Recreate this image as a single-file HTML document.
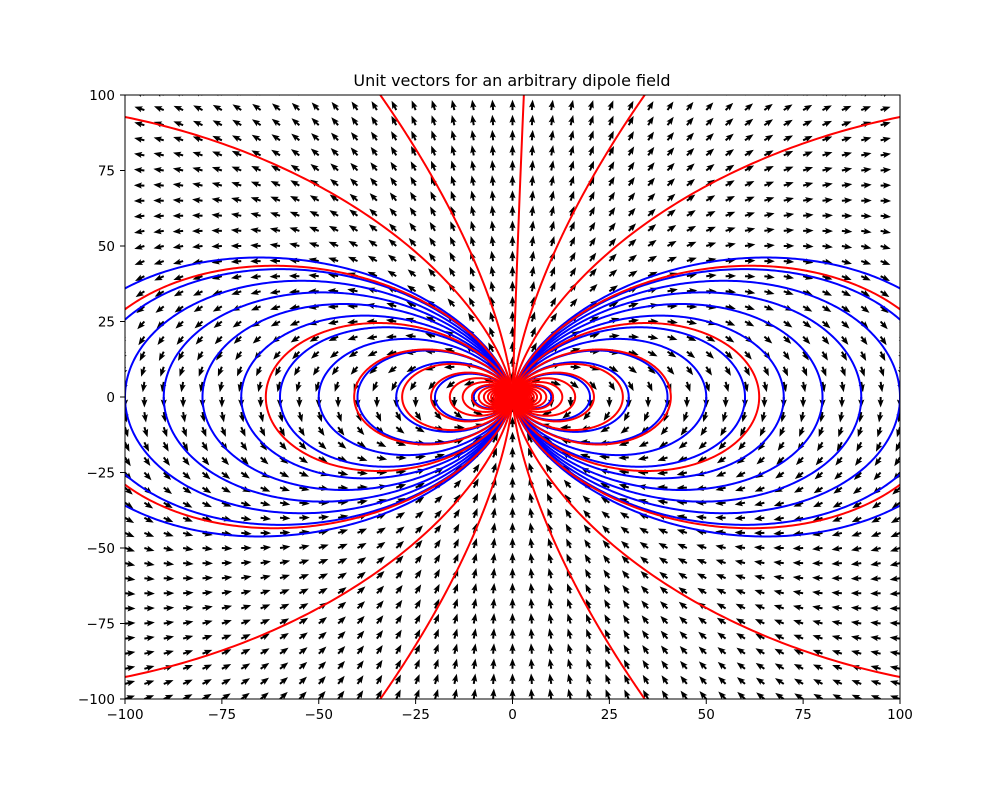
<!DOCTYPE html>
<html><head><meta charset="utf-8"><style>
html,body{margin:0;padding:0;background:#fff;overflow:hidden;width:1000px;height:786px;}
#wrap{position:absolute;left:0;top:0;width:1000px;height:786px;overflow:hidden;}
svg{display:block;overflow:hidden;}
svg text{font-family:"DejaVu Sans","Liberation Sans",sans-serif;}
</style></head><body>
<div id="wrap">
<svg id="chart" width="1000" height="786" viewBox="0 0 1000 786" xmlns="http://www.w3.org/2000/svg">
<defs><clipPath id="clip"><rect x="125" y="95" width="775" height="604"/></clipPath></defs>
<rect x="0" y="0" width="1000" height="786" fill="#fff"/>
<text x="512" y="86" font-size="16" text-anchor="middle">Unit vectors for an arbitrary dipole field</text>
<g id="quiver" clip-path="url(#clip)"></g>
<g id="blue" clip-path="url(#clip)"></g>
<g id="red" clip-path="url(#clip)"></g>
<rect x="125" y="95" width="775" height="604" fill="none" stroke="#000" stroke-width="1"/>
<g id="ticks"></g>
</svg>
</div>
<script>
const xTicks = [-100, -75, -50, -25, 0, 25, 50, 75, 100];
const yTicks = [-100, -75, -50, -25, 0, 25, 50, 75, 100];
const gridX = [-100,-95,-90,-85,-80,-75,-70,-65,-60,-55,-50,-45,-40,-35,-30,-25,-20,-15,-10,-5,0,5,10,15,20,25,30,35,40,45,50,55,60,65,70,75,80,85,90,95,100];
const gridY = [-100,-95,-90,-85,-80,-75,-70,-65,-60,-55,-50,-45,-40,-35,-30,-25,-20,-15,-10,-5,0,5,10,15,20,25,30,35,40,45,50,55,60,65,70,75,80,85,90,95,100];
const dipoleMoment = [0, 1];
const blueC = [10, 20, 30, 40, 50, 60, 70, 80, 90, 100, 110, 120];
const redC = [1013.2, 253.6, 112.9, 63.66, 40.86, 28.48, 21.02, 16.17, 12.85, 10.47, 8.715, 7.379, 6.34, 5.516, 4.852, 4.309, 3.859, 3.483, 3.165, 2.894, 2.662, 2.461, 2.287, 2.134, 2.0, 1.882, 1.777, 1.684, 1.602, 1.528, 1.462, 1.403, 1.35, 1.302, 1.26, 1.221, 1.157, 1.106, 1.025, 1.0];
const redTopLineEnd = [3, 100];

const NS = "http://www.w3.org/2000/svg";
const X = v => 125 + (v + 100) * 3.875;
const Y = v => 397 - v * 3.02;
function mk(tag, attrs, parent){const e=document.createElementNS(NS,tag);for(const k in attrs)e.setAttribute(k,attrs[k]);parent.appendChild(e);return e;}

const qg = document.getElementById('quiver');
const L=10.5, HL=7, HW=3.1, SW=1.0;
for (const gx of gridX) for (const gy of gridY) {
  const r2 = gx*gx + gy*gy; if (r2 === 0) continue;
  const r = Math.sqrt(r2);
  const pr = (dipoleMoment[0]*gx + dipoleMoment[1]*gy)/r;
  let u = 3*pr*gx/r - dipoleMoment[0], v = 3*pr*gy/r - dipoleMoment[1];
  const n = Math.hypot(u,v); u/=n; v/=n;
  const dx = u, dy = -v, px = -dy, py = dx;
  const tx = X(gx), ty = Y(gy);
  const pts = [[0,-SW],[L-HL,-SW],[L-HL-1,-HW],[L,0],[L-HL-1,HW],[L-HL,SW],[0,SW]]
    .map(([a,b]) => (tx+a*dx+b*px).toFixed(2)+','+(ty+a*dy+b*py).toFixed(2)).join(' ');
  const el = mk('polygon', {points: pts, fill:'#000'}, qg);
  
  
}

function loopPath(C){
  let d='';
  const N = C > 500 ? 4000 : 600;
  for (const s of [1,-1]) {
    let pen = false;
    for (let i=0;i<=N;i++){
      const lam = -Math.PI/2 + Math.PI*i/N;
      const c = Math.cos(lam), sn = Math.sin(lam);
      const x = s*C*c*c*c, y = C*c*c*sn;
      if (Math.abs(x) > 110 || Math.abs(y) > 110) { pen = false; continue; }
      d += (pen?'L':'M') + X(x).toFixed(2)+','+Y(y).toFixed(2);
      pen = true;
    }
  }
  return d;
}
const bg = document.getElementById('blue');
for (const C of blueC) {
  const el = mk('path', {d: loopPath(C), fill:'none', stroke:'#0000ff', 'stroke-width':2}, bg);
  
  
}
const rg = document.getElementById('red');
for (const C of redC) {
  const el = mk('path', {d: loopPath(C), fill:'none', stroke:'#ff0000', 'stroke-width':2}, rg);
  
  
}
const vl = mk('path', {d: 'M'+X(0)+','+Y(0)+' Q'+X(redTopLineEnd[0]*0.4)+','+Y(redTopLineEnd[1]*0.5)+' '+X(redTopLineEnd[0])+','+Y(redTopLineEnd[1]+2), fill:'none', stroke:'#ff0000','stroke-width':2}, rg);



const tg = document.getElementById('ticks');
for (const t of xTicks) {
  const l = mk('line', {x1:X(t), x2:X(t), y1:699, y2:704, stroke:'#000','stroke-width':1}, tg);
  
  
  const tx = mk('text', {x:X(t), y:719, 'font-size':13.5, 'text-anchor':'middle'}, tg);
  tx.textContent = t < 0 ? '\u2212' + Math.abs(t) : String(t);
  
  
}
for (const t of yTicks) {
  const l = mk('line', {x1:120, x2:125, y1:Y(t), y2:Y(t), stroke:'#000','stroke-width':1}, tg);
  
  
  const tx = mk('text', {x:115, y:Y(t)+5, 'font-size':13.5, 'text-anchor':'end'}, tg);
  tx.textContent = t < 0 ? '\u2212' + Math.abs(t) : String(t);
  
  
}
</script>
</body></html>
